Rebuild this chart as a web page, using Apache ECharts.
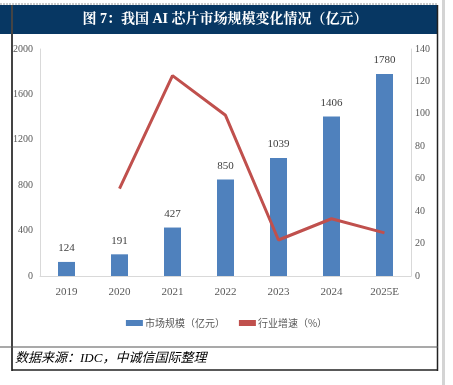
<!DOCTYPE html>
<html><head><meta charset="utf-8">
<script src="https://cdn.jsdelivr.net/npm/echarts@6/dist/echarts.min.js"></script>
<style>html,body{margin:0;padding:0;background:#fff;}#c{width:453px;height:385px;}</style>
</head><body><div id="c"></div>
<script>
const categories = ['2019','2020','2021','2022','2023','2024','2025E'];
const marketSize = [124,191,427,850,1039,1406,1780];
const growthRate = [null,53.9,123.6,99.1,22.2,35.3,26.6];
const leftTicks = [0,400,800,1200,1600,2000];
const rightTicks = [0,20,40,60,80,100,120,140];

const chart = echarts.init(document.getElementById('c'));
const serif = '"Liberation Serif","Times New Roman",serif';
chart.setOption({
  animation:false,
  grid:{left:40,right:42,top:49,bottom:109},
  xAxis:{type:'category',data:categories,
    axisLine:{lineStyle:{color:'#d9d9d9',width:1}},
    axisTick:{show:false},
    axisLabel:{color:'#595959',fontFamily:serif,fontSize:11,margin:11}},
  yAxis:[
    {type:'value',min:leftTicks[0],max:leftTicks[leftTicks.length-1],interval:400,
     splitLine:{show:false},axisLine:{show:true,lineStyle:{color:'#d9d9d9'}},axisTick:{show:false},
     axisLabel:{color:'#595959',fontFamily:serif,fontSize:10,margin:7,formatter:v=>String(v)}},
    {type:'value',min:rightTicks[0],max:rightTicks[rightTicks.length-1],interval:20,
     splitLine:{show:false},axisLine:{show:true,lineStyle:{color:'#d9d9d9'}},axisTick:{show:false},
     axisLabel:{color:'#595959',fontFamily:serif,fontSize:10,margin:4,formatter:v=>String(v)}}
  ],
  legend:{bottom:52,left:'center',itemGap:14,itemWidth:17,itemHeight:6,
    textStyle:{color:'#595959',fontSize:10,fontFamily:'"Noto Sans CJK SC",sans-serif',padding:[0,0,0,-3]},
    data:[{name:'市场规模（亿元）',icon:'rect'},{name:'行业增速（%）',icon:'rect',itemStyle:{color:'#C0504D'}}]},
  series:[
    {name:'市场规模（亿元）',type:'bar',data:marketSize,barWidth:17,
     itemStyle:{color:'#4F81BD'},
     label:{show:true,position:'top',color:'#404040',fontFamily:serif,fontSize:11,distance:8}},
    {name:'行业增速（%）',type:'line',yAxisIndex:1,data:growthRate,symbol:'none',
     lineStyle:{color:'#C0504D',width:3},itemStyle:{color:'#C0504D'}}
  ],
  graphic:[
    {type:'line',shape:{x1:0,y1:4,x2:438,y2:4},style:{stroke:'#999',lineWidth:1,lineDash:[2,1]},z:10},
    {type:'rect',shape:{x:0,y:5,width:438,height:29},style:{fill:'#073763'},z:9},
    {type:'text',x:225,y:19.5,style:{text:'图 7：我国 AI 芯片市场规模变化情况（亿元）',fill:'#fff',
      font:'bold 14px "Liberation Serif","Noto Serif CJK SC","Noto Sans CJK SC",serif',align:'center',verticalAlign:'middle'},z:11},
    {type:'line',shape:{x1:12,y1:5,x2:12,y2:371},style:{stroke:'#444',lineWidth:2},z:12},
    {type:'line',shape:{x1:437.5,y1:5,x2:437.5,y2:371},style:{stroke:'#222',lineWidth:1.5},z:12},
    {type:'line',shape:{x1:0,y1:347,x2:438,y2:347},style:{stroke:'#555',lineWidth:1.2},z:12},
    {type:'line',shape:{x1:12,y1:370,x2:438,y2:370},style:{stroke:'#222',lineWidth:1.5},z:12},
    {type:'rect',shape:{x:442,y:0,width:3,height:385},style:{fill:'#d4d4d4'},z:12},
    {type:'text',x:15,y:359,style:{text:'数据来源：IDC，中诚信国际整理',fill:'#000',
      font:'italic 13px "Liberation Serif","Noto Sans CJK SC",serif',verticalAlign:'middle'},z:11}
  ]
});
</script></body></html>
